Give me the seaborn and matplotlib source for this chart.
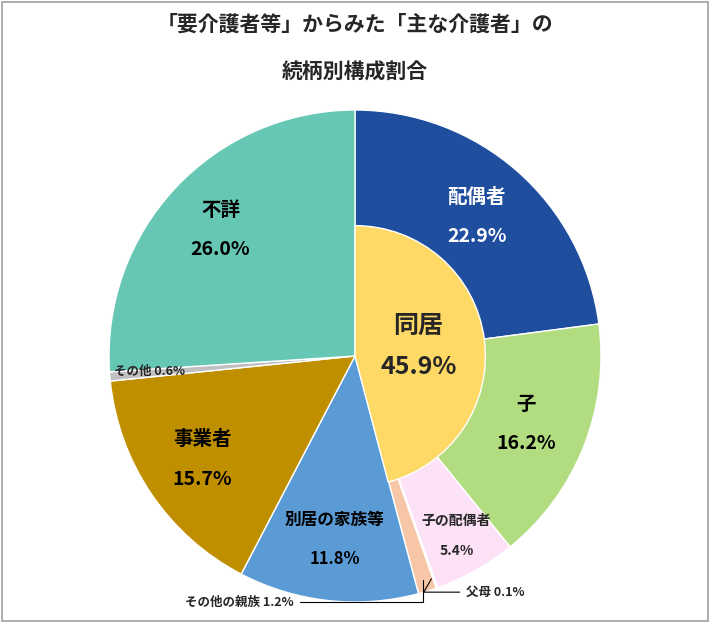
import numpy as np
import matplotlib
matplotlib.use("Agg")
import matplotlib.pyplot as plt
import seaborn as sns
from matplotlib.patches import Wedge, Rectangle

sns.set_theme(style="white")
plt.rcParams["font.family"] = "Noto Sans CJK JP"

labels = ["配偶者", "子", "子の配偶者", "父母", "その他の親族", "別居の家族等", "事業者", "その他", "不詳"]
values = [22.9, 16.2, 5.4, 0.1, 1.2, 11.8, 15.7, 0.6, 26.0]
colors = ["#1f4e9f", "#b1dc80", "#fde1f6", "#a9d2f2", "#f7c6a6", "#5b9bd5", "#bf8f00", "#c0c0c0", "#66c7b4"]
inner_label = "同居"
inner_value = 45.9

fig = plt.figure(figsize=(7.1, 6.23), dpi=100)
fig.patches.append(Rectangle((0.003, 0.003), 0.994, 0.994, transform=fig.transFigure,
                             fill=False, edgecolor="#a0a0a0", lw=1.2))
R = 246
ax = fig.add_axes([(355 - R) / 710, (623 - 356 - R) / 623, 2 * R / 710, 2 * R / 623])
ax.set_xlim(-1, 1)
ax.set_ylim(-1, 1)
ax.axis("off")

wedges, _ = ax.pie(values, colors=colors, startangle=90, counterclock=False, radius=1,
                   wedgeprops=dict(edgecolor="white", linewidth=1))
ax.add_patch(Wedge((0, 0), 0.53, 90 - inner_value * 3.6, 90, facecolor="#ffd966",
                   edgecolor="white", lw=1))
ax.set_xlim(-1, 1)
ax.set_ylim(-1, 1)

cum = np.cumsum([0] + values)
total = sum(values)
def mid_angle(i):
    return np.deg2rad(90 - (cum[i] + values[i] / 2) / total * 360)

big = {0: "white", 1: "black", 5: "black", 6: "black", 8: "black"}
for i, c in big.items():
    a = mid_angle(i)
    x, y = 0.75 * np.cos(a), 0.75 * np.sin(a)
    size = 12 if i == 5 else 14
    ax.text(x, y + 0.08, labels[i], ha="center", va="center", fontsize=size, fontweight="bold", color=c)
    ax.text(x, y - 0.08, f"{values[i]}%", ha="center", va="center", fontsize=size, fontweight="bold", color=c)

a = mid_angle(2)
x, y = 0.84 * np.cos(a), 0.84 * np.sin(a)
ax.text(x, y + 0.06, labels[2], ha="center", va="center", fontsize=10, fontweight="bold")
ax.text(x, y - 0.06, f"{values[2]}%", ha="center", va="center", fontsize=10, fontweight="bold")

a = mid_angle(7)
ax.text(0.985 * np.cos(a), 0.985 * np.sin(a) + 0.02, f"{labels[7]} {values[7]}%", ha="left", va="center",
        fontsize=9, fontweight="bold")

a = mid_angle(4)
ax.annotate(f"{labels[4]} {values[4]}%", xy=(0.94 * np.cos(a), 0.94 * np.sin(a)), xytext=(-0.25, -1.0),
            ha="right", va="center", fontsize=9, fontweight="bold", annotation_clip=False,
            arrowprops=dict(arrowstyle="-", color="black", lw=0.8, connectionstyle="angle,angleA=0,angleB=90,rad=0"))
a = mid_angle(3)
ax.annotate(f"{labels[3]} {values[3]}%", xy=(0.95 * np.cos(a), 0.95 * np.sin(a)), xytext=(0.45, -0.96),
            ha="left", va="center", fontsize=9, fontweight="bold", annotation_clip=False,
            arrowprops=dict(arrowstyle="-", color="black", lw=0.8, connectionstyle="angle,angleA=0,angleB=60,rad=0"))

ia = np.deg2rad(90 - inner_value * 3.6 / 2)
ix, iy = 0.26 * np.cos(ia), 0.26 * np.sin(ia)
ax.text(ix, iy + 0.09, inner_label, ha="center", va="center", fontsize=18, fontweight="bold")
ax.text(ix, iy - 0.08, f"{inner_value}%", ha="center", va="center", fontsize=18, fontweight="bold")

fig.text(0.5, 1 - 24 / 623, "「要介護者等」からみた「主な介護者」の", ha="center", va="center", fontsize=15, fontweight="bold")
fig.text(0.5, 1 - 72 / 623, "続柄別構成割合", ha="center", va="center", fontsize=15, fontweight="bold")

fig.savefig("out.png", dpi=100)
